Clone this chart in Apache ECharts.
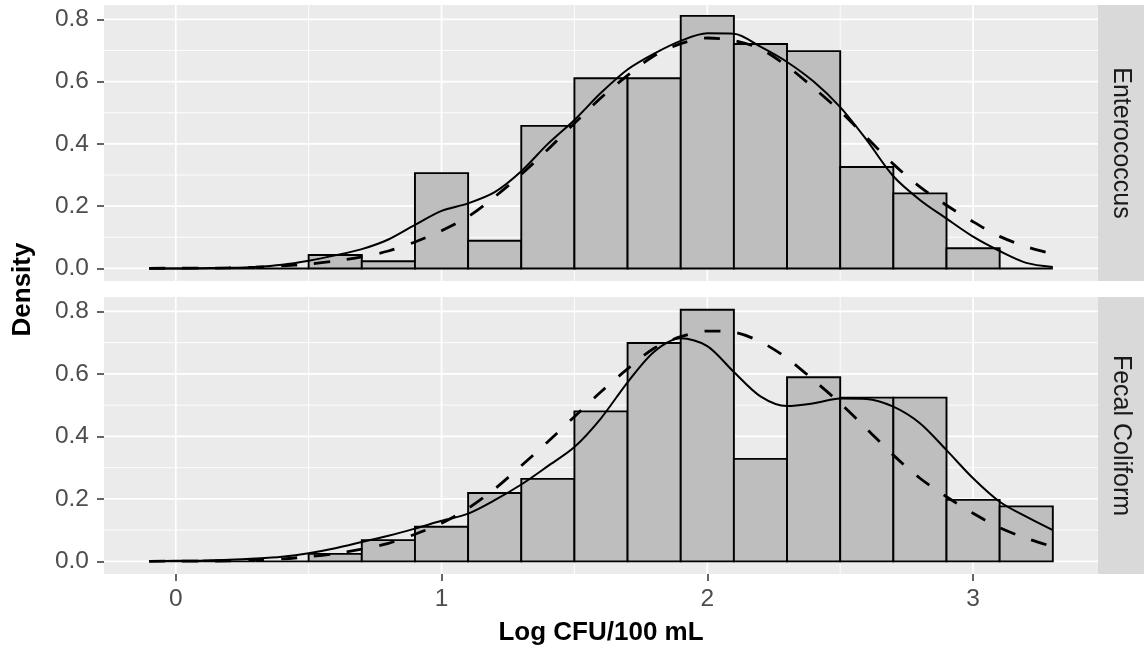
<!DOCTYPE html>
<html><head><meta charset="utf-8">
<script src="https://cdn.jsdelivr.net/npm/echarts@6/dist/echarts.min.js"></script>
<style>html,body{margin:0;padding:0;background:#fff}#c{width:1144px;height:651px}</style>
</head><body><div id="c"></div>
<script>
// ---------- data ----------
const panelNames = ['Enterococcus', 'Fecal Coliform'];
const xTitle = 'Log CFU/100 mL';
const yTitle = 'Density';
const binEdges = [-0.1, 0.1, 0.3, 0.5, 0.7, 0.9, 1.1, 1.3, 1.5, 1.7, 1.9, 2.1, 2.3, 2.5, 2.7, 2.9, 3.1, 3.3];
const entHist = [0, 0, 0, 0.043, 0.023, 0.306, 0.089, 0.458, 0.611, 0.611, 0.811, 0.721, 0.698, 0.326, 0.241, 0.065, 0];
const fecHist = [0, 0, 0, 0.024, 0.068, 0.111, 0.219, 0.264, 0.480, 0.699, 0.805, 0.328, 0.589, 0.524, 0.524, 0.197, 0.176];
const densX = [-0.1, 0.0, 0.1, 0.2, 0.3, 0.4, 0.5, 0.6, 0.7, 0.8, 0.9, 1.0, 1.1, 1.2, 1.3, 1.4, 1.5, 1.6, 1.7, 1.8,
               1.9, 2.0, 2.1, 2.2, 2.3, 2.4, 2.5, 2.6, 2.7, 2.8, 2.9, 3.0, 3.1, 3.2, 3.3];
const entKde = [0.000, 0.000, 0.001, 0.002, 0.005, 0.012, 0.025, 0.042, 0.062, 0.093, 0.140, 0.185, 0.209, 0.245,
                0.312, 0.400, 0.477, 0.564, 0.639, 0.690, 0.731, 0.755, 0.754, 0.712, 0.663, 0.600, 0.518, 0.412,
                0.296, 0.220, 0.160, 0.102, 0.056, 0.018, 0.005];
const entNormal = [0.000, 0.001, 0.001, 0.002, 0.004, 0.008, 0.014, 0.024, 0.037, 0.056, 0.085, 0.121, 0.166, 0.230,
                   0.302, 0.382, 0.466, 0.548, 0.620, 0.683, 0.722, 0.740, 0.732, 0.705, 0.650, 0.580, 0.505, 0.420,
                   0.335, 0.262, 0.203, 0.150, 0.103, 0.070, 0.046];
const fecKde = [0.001, 0.002, 0.003, 0.005, 0.009, 0.015, 0.026, 0.042, 0.062, 0.082, 0.105, 0.130, 0.153, 0.196,
                0.246, 0.305, 0.366, 0.458, 0.573, 0.671, 0.714, 0.689, 0.606, 0.528, 0.497, 0.506, 0.521, 0.520,
                0.495, 0.442, 0.356, 0.266, 0.191, 0.143, 0.100];
const fecNormal = [0.000, 0.001, 0.001, 0.002, 0.004, 0.008, 0.015, 0.025, 0.039, 0.058, 0.087, 0.122, 0.170, 0.232,
                   0.306, 0.383, 0.463, 0.543, 0.616, 0.682, 0.719, 0.737, 0.733, 0.703, 0.650, 0.580, 0.506, 0.424,
                   0.340, 0.266, 0.207, 0.154, 0.108, 0.074, 0.047];
const xTicks = [0, 1, 2, 3];
const xMinorTicks = [0.5, 1.5, 2.5];
const yTicks = [0, 0.2, 0.4, 0.6, 0.8];
const yMinorTicks = [0.1, 0.3, 0.5, 0.7];

// ---------- layout / style ----------
const X_MIN = -0.27, X_MAX = 3.47, Y_MIN = -0.0403, Y_MAX = 0.846;
const GL = 104, GW = 994, STRIP_W = 46;
const grids = [{ top: 5, height: 276 }, { top: 297, height: 277 }];
const FONT = '"Liberation Sans", Arial, Helvetica, sans-serif';
const histSets = [entHist, fecHist];
const kdeSets = [entKde, fecKde];
const normSets = [entNormal, fecNormal];

const chart = echarts.init(document.getElementById('c'), null, { renderer: 'canvas' });

const grid = [], xAxis = [], yAxis = [], series = [], graphic = [];
grids.forEach((g, p) => {
  grid.push({ left: GL, top: g.top, width: GW, height: g.height, show: true,
              backgroundColor: '#ebebeb', borderWidth: 0, containLabel: false });
  const isBottom = p === grids.length - 1;
  xAxis.push({
    type: 'value', gridIndex: p, min: X_MIN, max: X_MAX, position: 'bottom',
    axisLine: { show: false, onZero: false }, splitLine: { show: false },
    axisTick: { show: isBottom, customValues: xTicks, length: 7, lineStyle: { color: '#333', width: 1.5 } },
    axisLabel: { show: isBottom, customValues: xTicks, margin: 13, color: '#4d4d4d', fontSize: 24.5, fontFamily: FONT,
                 formatter: v => String(v) }
  });
  yAxis.push({
    type: 'value', gridIndex: p, min: Y_MIN, max: Y_MAX, position: 'left',
    axisLine: { show: false, onZero: false }, splitLine: { show: false },
    axisTick: { show: true, customValues: yTicks, length: 7, lineStyle: { color: '#333', width: 1.5 } },
    axisLabel: { show: true, customValues: yTicks, margin: 15, color: '#4d4d4d', fontSize: 24.5, fontFamily: FONT,
                 formatter: v => v.toFixed(1) }
  });
  // grid lines (drawn through the axes)
  const vData = xTicks.map(v => [v, 0, 1]).concat(xMinorTicks.map(v => [v, 0, 0]));
  const hData = yTicks.map(v => [0, v, 1]).concat(yMinorTicks.map(v => [0, v, 0]));
  series.push({
    type: 'custom', xAxisIndex: p, yAxisIndex: p, z: 1, silent: true, animation: false,
    encode: { x: 0, y: 1 }, data: vData,
    renderItem: (params, api) => {
      const cs = params.coordSys;
      const px = api.coord([api.value(0), 0])[0];
      return { type: 'line', shape: { x1: px, y1: cs.y, x2: px, y2: cs.y + cs.height },
               style: { stroke: '#ffffff', lineWidth: api.value(2) ? 1.7 : 0.9 } };
    }
  });
  series.push({
    type: 'custom', xAxisIndex: p, yAxisIndex: p, z: 1, silent: true, animation: false,
    encode: { x: 0, y: 1 }, data: hData,
    renderItem: (params, api) => {
      const cs = params.coordSys;
      const py = api.coord([0, api.value(1)])[1];
      return { type: 'line', shape: { x1: cs.x, y1: py, x2: cs.x + cs.width, y2: py },
               style: { stroke: '#ffffff', lineWidth: api.value(2) ? 1.7 : 0.9 } };
    }
  });
  // histogram
  series.push({
    type: 'custom', xAxisIndex: p, yAxisIndex: p, z: 2, silent: true, animation: false,
    encode: { x: [0, 1], y: 2 },
    data: histSets[p].map((h, i) => [binEdges[i], binEdges[i + 1], h]),
    renderItem: (params, api) => {
      const a = api.coord([api.value(0), api.value(2)]);
      const b = api.coord([api.value(1), 0]);
      return { type: 'rect', shape: { x: a[0], y: a[1], width: b[0] - a[0], height: b[1] - a[1] },
               style: { fill: '#bebebe', stroke: '#000000', lineWidth: 1.9 } };
    }
  });
  series.push({
    type: 'line', xAxisIndex: p, yAxisIndex: p, z: 3, silent: true, animation: false,
    showSymbol: false, symbol: 'none', smooth: 0.3,
    data: densX.map((x, i) => [x, kdeSets[p][i]]),
    lineStyle: { color: '#000', width: 2.0 }
  });
  series.push({
    type: 'line', xAxisIndex: p, yAxisIndex: p, z: 4, silent: true, animation: false,
    showSymbol: false, symbol: 'none', smooth: 0.3,
    data: densX.map((x, i) => [x, normSets[p][i]]),
    lineStyle: { color: '#000', width: 2.8, type: [16, 17] }
  });
  // facet strip
  graphic.push({ type: 'rect', shape: { x: GL + GW, y: g.top, width: STRIP_W, height: g.height },
                 style: { fill: '#d9d9d9' }, silent: true });
  graphic.push({ type: 'text', x: GL + GW + STRIP_W / 2, y: g.top + g.height / 2, rotation: -Math.PI / 2,
                 style: { text: panelNames[p], fill: '#1a1a1a', font: '25px ' + FONT, align: 'center', verticalAlign: 'middle' },
                 silent: true });
});
const lastG = grids[grids.length - 1];
graphic.push({ type: 'text', x: GL + GW / 2, y: lastG.top + lastG.height + 59,
               style: { text: xTitle, fill: '#000', font: 'bold 26px ' + FONT, align: 'center', verticalAlign: 'middle' }, silent: true });
graphic.push({ type: 'text', x: 23, y: (grids[0].top + lastG.top + lastG.height) / 2, rotation: Math.PI / 2,
               style: { text: yTitle, fill: '#000', font: 'bold 26px ' + FONT, align: 'center', verticalAlign: 'middle' }, silent: true });

chart.setOption({ animation: false, backgroundColor: '#ffffff', grid, xAxis, yAxis, series, graphic });
</script></body></html>
